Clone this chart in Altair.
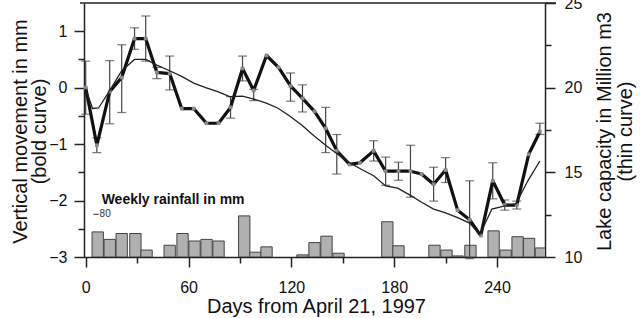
import altair as alt
import pandas as pd

# Bold curve: vertical movement (mm)
move_days = [0, 6.5, 14, 21, 28.5, 35, 41.5, 49, 56, 63, 70.5, 77.5, 84.5, 91.5, 98, 105.5,
             112.5, 119.5, 126.5, 133.5, 140, 146.5, 154, 160, 168, 175, 182.5, 189.5, 196,
             203, 210, 217, 224, 230.5, 237.5, 244.5, 251.5, 258.5, 265]
move_mm = [0.0, -1.02, -0.07, 0.18, 0.87, 0.87, 0.27, 0.25, -0.37, -0.37, -0.63, -0.63, -0.35,
           0.34, -0.05, 0.57, 0.36, 0.03, -0.19, -0.42, -0.72, -1.12, -1.36, -1.33, -1.12,
           -1.48, -1.48, -1.48, -1.53, -1.71, -1.46, -2.17, -2.34, -2.62, -1.65, -2.08, -2.08,
           -1.18, -0.78]

# Error bars (centre and half-width, mm)
err_days = [0, 6.5, 14, 21, 28.5, 35, 41.5, 49, 84.5, 91.5, 98, 119.5, 126.5, 140, 146.5,
            168, 175, 182.5, 189.5, 203, 210, 224, 237.5, 244.5, 251.5, 265]
err_mid = [0.0, -1.02, -0.08, 0.16, 0.87, 0.87, 0.26, 0.26, -0.35, 0.34, -0.13, 0.01, -0.19,
           -0.75, -1.18, -1.12, -1.48, -1.48, -1.48, -1.71, -1.46, -2.34, -1.65, -2.08,
           -2.08, -0.73]
err_half = [0.47, 0.13, 0.56, 0.6, 0.19, 0.4, 0.1, 0.3, 0.19, 0.22, 0.1, 0.25, 0.24, 0.4,
            0.35, 0.18, 0.25, 0.16, 0.46, 0.3, 0.22, 0.69, 0.32, 0.09, 0.07, 0.1]

# Thin curve: lake capacity (million m3)
lake_days = [0, 4, 7.5, 14, 21, 28.5, 35, 41.5, 49, 56, 63, 70, 77, 84, 91.5, 98, 105, 112,
             119, 126, 133, 140, 147, 154, 161, 168, 175, 182, 189, 196, 203, 210, 217, 224,
             230, 237, 244, 251, 258, 265]
lake_cap = [19.93, 18.77, 18.8, 19.83, 21.0, 21.67, 21.67, 21.33, 21.0, 20.67, 20.27, 20.0,
            19.77, 19.47, 19.5, 19.33, 19.1, 18.8, 18.33, 17.8, 17.17, 16.6, 16.07, 15.57,
            15.17, 14.8, 14.2, 14.07, 13.67, 13.23, 12.83, 12.6, 12.33, 12.0, 11.33, 12.83,
            13.0, 13.13, 14.5, 15.67]

# Weekly rainfall (mm)
rain_days = [7, 14, 21, 29, 35.5, 49, 56.5, 63.5, 70.5, 77.5, 92.5, 99, 105.5, 126.5, 133.5,
             140.5, 147.5, 176, 182.5, 203.5, 210.5, 217, 224.5, 238, 245, 252, 258.7, 265.6]
rain_mm = [47, 33, 44, 44, 13, 22, 44, 30, 33, 30, 77, 9, 19, 4, 27, 39, 7, 66, 21, 22, 13,
           2, 22, 49, 13, 38, 35, 17]

FONT = "Liberation Sans"
W, H = 461, 254

move_df = pd.DataFrame({"day": move_days, "mm": move_mm})
err_df = pd.DataFrame({"day": err_days, "lo": [m - h for m, h in zip(err_mid, err_half)],
                       "hi": [m + h for m, h in zip(err_mid, err_half)]})
lake_df = pd.DataFrame({"day": lake_days, "cap": lake_cap})
rain_df = pd.DataFrame({"day": rain_days, "rain": rain_mm})
one = pd.DataFrame({"k": [0]})

xscale = alt.Scale(domain=[-1, 268], nice=False, zero=False)
xaxis = alt.Axis(title="Days from April 21, 1997", values=list(range(0, 270, 30)),
                 labelExpr="datum.value % 60 === 0 ? datum.label : ''",
                 tickSize={"condition": {"test": "datum.value % 60 === 0", "value": 10}, "value": 6},
                 labelPadding=12, titleX=232, titleY=49, titleBaseline="middle",
                 titleAlign="center", labelFlush=False)


def X(field="day"):
    return alt.X(field, type="quantitative", scale=xscale, axis=xaxis)


yleft_scale = alt.Scale(domain=[-3, 1.5], nice=False, zero=False)
yleft_axis = alt.Axis(orient="left", title=["Vertical movement in mm", "(bold curve)"],
                      values=[-3, -2.5, -2, -1.5, -1, -0.5, 0, 0.5, 1], format=".0f",
                      labelExpr="datum.value % 1 === 0 ? datum.label : ''",
                      tickSize={"condition": {"test": "datum.value % 1 === 0", "value": 10}, "value": 6},
                      labelPadding=7, titleAngle=-90, titleX=-64, titleY=128,
                      titleAlign="center", titleBaseline="middle", titleLineHeight=19)

yright_scale = alt.Scale(domain=[10, 25], nice=False, zero=False)
yright_axis = alt.Axis(orient="right", title=["Lake capacity in Million m3", "(thin curve)"],
                       values=[10, 12.5, 15, 17.5, 20, 22.5, 25], format=".0f",
                       labelExpr="datum.value % 5 === 0 ? datum.label : ''",
                       tickSize={"condition": {"test": "datum.value % 5 === 0", "value": 10}, "value": 6},
                       labelPadding=9, titleAngle=-90, titleX=59, titleY=128,
                       titleAlign="center", titleBaseline="middle", titleLineHeight=21)

rain_scale = alt.Scale(domain=[0, 80 * H / 42.7], nice=False, zero=True)

# Rainfall layer
bars = alt.Chart(rain_df).transform_calculate(
    x0="datum.day - 3.3", x1="datum.day + 3.3", base="0"
).mark_bar(fill="#b0b0b0", stroke="#444444", strokeWidth=1, clip=True).encode(
    x=alt.X("x0:Q", scale=xscale, axis=xaxis), x2="x1:Q",
    y=alt.Y("rain:Q", scale=rain_scale, axis=None), y2="base:Q",
)
tick80 = alt.Chart(pd.DataFrame({"rain": [80]})).mark_rule(color="#333", strokeWidth=1).encode(
    x=alt.datum(4.5, scale=xscale), x2=alt.datum(7.5),
    y=alt.Y("rain:Q", scale=rain_scale, axis=None),
)
lab80 = alt.Chart(pd.DataFrame({"rain": [80], "t": ["80"]})).mark_text(
    align="left", baseline="middle", font=FONT, fontSize=10, color="#333", dx=1
).encode(
    x=alt.datum(7.5, scale=xscale),
    y=alt.Y("rain:Q", scale=rain_scale, axis=None), text="t:N",
)
rain_title = alt.Chart(pd.DataFrame({"rain": [107], "t": ["Weekly rainfall in mm"]})).mark_text(
    align="left", baseline="middle", font=FONT, fontSize=14, fontWeight="bold", color="#111"
).encode(
    x=alt.datum(9.3, scale=xscale),
    y=alt.Y("rain:Q", scale=rain_scale, axis=None), text="t:N",
)
rain_layer = alt.layer(bars, tick80, lab80, rain_title)

# Left layer: error bars and bold curve
err_rule = alt.Chart(err_df).mark_rule(color="#444", strokeWidth=1.2).encode(
    x=X(), y=alt.Y("lo:Q", scale=yleft_scale, axis=yleft_axis), y2="hi:Q"
)
cap_lo = alt.Chart(err_df).mark_tick(orient="horizontal", color="#444", size=9, thickness=1.2).encode(
    x=X(), y=alt.Y("lo:Q", scale=yleft_scale, axis=yleft_axis)
)
cap_hi = alt.Chart(err_df).mark_tick(orient="horizontal", color="#444", size=9, thickness=1.2).encode(
    x=X(), y=alt.Y("hi:Q", scale=yleft_scale, axis=yleft_axis)
)
bold = alt.Chart(move_df).mark_line(color="#111", strokeWidth=3.2, strokeJoin="round").encode(
    x=X(), y=alt.Y("mm:Q", scale=yleft_scale, axis=yleft_axis)
)
pts = alt.Chart(move_df).mark_square(color="#8a8a8a", size=14, opacity=1).encode(
    x=X(), y=alt.Y("mm:Q", scale=yleft_scale, axis=yleft_axis)
)
frame_top = alt.Chart(one).mark_rule(color="#222", strokeWidth=1.5).encode(
    x=alt.value(-4), x2=alt.value(W + 11), y=alt.value(0)
)
left_layer = alt.layer(err_rule, cap_lo, cap_hi, bold, pts, frame_top)

# Right layer: thin curve
thin = alt.Chart(lake_df).mark_line(color="#222", strokeWidth=1.3).encode(
    x=X(), y=alt.Y("cap:Q", scale=yright_scale, axis=yright_axis)
)

chart = alt.layer(rain_layer, left_layer, thin).resolve_scale(y="independent").properties(
    width=W, height=H,
    autosize=alt.AutoSizeParams(type="none"),
    padding={"left": 84, "top": 3, "right": 95, "bottom": 61},
).configure_view(stroke=None).configure_axis(
    labelFont=FONT, titleFont=FONT, labelFontSize=16, titleFontSize=20,
    titleFontWeight="normal", labelColor="#111", titleColor="#111",
    domainColor="#222", tickColor="#222", domainWidth=1.5, tickWidth=1.5, grid=False,
)

chart.save("out.html", embed_options={"renderer": "svg", "actions": False})
